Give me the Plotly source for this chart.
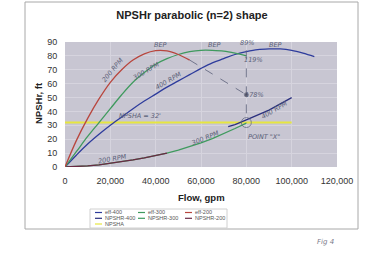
import plotly.graph_objects as go

# ---------------- data ----------------
flow_eff200 = [0, 5000, 10000, 15000, 20000, 25000, 30000, 35000, 40000, 45000, 50000, 55000]
eff200 = [0, 19, 35, 49, 61, 70, 77, 81.5, 83.8, 83.6, 81, 77]

flow_eff300 = [0, 5000, 10000, 15000, 20000, 25000, 30000, 35000, 40000, 45000, 50000,
               55000, 60000, 65000, 70000, 75000, 80000]
eff300 = [0, 11, 22, 32, 42, 52, 61, 68, 74, 78, 81, 83, 84, 84, 83.5, 82, 80]

flow_eff400 = [0, 5000, 10000, 15000, 20000, 25000, 30000, 35000, 40000, 45000, 50000, 55000,
               60000, 65000, 70000, 75000, 80000, 85000, 90000, 95000, 100000, 105000, 110000]
eff400 = [0, 8.5, 16.5, 23.5, 30, 36, 42, 47.5, 52.5, 57.5, 62, 66.5, 71, 75, 78, 81, 83, 84.5,
          85, 85, 84, 82, 79.5]

flow_npshr200 = [0, 5000, 10000, 15000, 20000, 25000, 30000, 35000, 40000, 45000]
npshr200 = [0, 0.3, 0.8, 1.6, 2.7, 3.9, 5.2, 6.6, 8.2, 10]

flow_npshr300 = [0, 5000, 10000, 15000, 20000, 25000, 30000, 35000, 40000, 45000, 50000,
                 55000, 60000, 65000, 70000, 75000, 80000]
npshr300 = [0, 0.3, 0.8, 1.6, 2.7, 3.9, 5.2, 6.6, 8.2, 10, 12.2, 14.6, 17.3, 20.5, 24, 27.7, 31.6]

flow_npshr400 = [72000, 75000, 80000, 85000, 90000, 95000, 100000]
npshr400 = [29, 30.5, 34, 37.5, 41, 45.5, 50]

flow_npsha = [0, 100000]
npsha = [32, 32]

x_ticks = [0, 20000, 40000, 60000, 80000, 100000, 120000]
x_tick_text = ["0", "20,000", "40,000", "60,000", "80,000", "100,000", "120,000"]
y_ticks = [0, 10, 20, 30, 40, 50, 60, 70, 80, 90]

series_names = ["eff-400", "eff-300", "eff-200", "NPSHR-400", "NPSHR-300", "NPSHR-200", "NPSHA"]
series_colors = ["#2e3c9c", "#3f9a5e", "#b8463e", "#2a2f7e", "#3f9a5e", "#6a2a44", "#e6e640"]

# handwritten notes: (text, flow, value, angle)
notes = [
    ("200 RPM", 21000, 70, -50),
    ("300 RPM", 36000, 69, -30),
    ("400 RPM", 45500, 62, -30),
    ("BEP", 42000, 88, 0),
    ("BEP", 66000, 88, 0),
    ("BEP", 93000, 88, 0),
    ("89%", 80500, 89, 0),
    ("119%", 83000, 77, 0),
    ("178%", 83500, 52, 0),
    ("NPSHA = 32'", 33000, 36.5, 0),
    ("POINT \"X\"", 88000, 21.5, 0),
    ("200 RPM", 21000, 5.5, -10),
    ("300 RPM", 62000, 21, -22),
    ("400 RPM", 92500, 41, -30),
]

# ---------------- figure ----------------
fig = go.Figure()

fig.add_trace(go.Scatter(x=flow_npsha, y=npsha, mode="lines", name=series_names[6],
                         line=dict(color=series_colors[6], width=2)))
fig.add_trace(go.Scatter(x=flow_npshr400, y=npshr400, mode="lines", name=series_names[3],
                         line=dict(color=series_colors[3], width=1.3)))
fig.add_trace(go.Scatter(x=flow_npshr300, y=npshr300, mode="lines", name=series_names[4],
                         line=dict(color=series_colors[4], width=1.3)))
fig.add_trace(go.Scatter(x=flow_npshr200, y=npshr200, mode="lines", name=series_names[5],
                         line=dict(color=series_colors[5], width=1.3)))
fig.add_trace(go.Scatter(x=flow_eff400, y=eff400, mode="lines", name=series_names[0],
                         line=dict(color=series_colors[0], width=1.3, shape="spline")))
fig.add_trace(go.Scatter(x=flow_eff300, y=eff300, mode="lines", name=series_names[1],
                         line=dict(color=series_colors[1], width=1.3, shape="spline")))
fig.add_trace(go.Scatter(x=flow_eff200, y=eff200, mode="lines", name=series_names[2],
                         line=dict(color=series_colors[2], width=1.3, shape="spline")))

# handwritten construction lines
ink = "#5a6078"
fig.add_trace(go.Scatter(x=[flow_eff200[-1], 80000], y=[eff200[-1], 52], mode="lines",
                         line=dict(color=ink, width=0.8, dash="dash"), hoverinfo="skip"))
fig.add_trace(go.Scatter(x=[80000, 80000], y=[84, 32], mode="lines",
                         line=dict(color=ink, width=0.8, dash="dash"), hoverinfo="skip"))
fig.add_trace(go.Scatter(x=[80000, 80000], y=[52, 32], mode="markers",
                         marker=dict(color=["#333344", "rgba(0,0,0,0)"], size=[4, 10],
                                     line=dict(color=ink, width=1)), hoverinfo="skip"))

for t, fx, fy, ang in notes:
    fig.add_annotation(x=fx, y=fy, text=t, showarrow=False, textangle=ang,
                       font=dict(family="DejaVu Sans", size=6.5, color=ink, style="italic"))

# ---------------- manual compact legend / titles in pixel positions ----------------
W, H = 384, 262
L, R, T, B = 65, 47, 42, 95
pw, ph = W - L - R, H - T - B


def px(xp):
    return (xp - L) / pw


def py(yp):
    return (H - B - yp) / ph


fig.add_shape(type="rect", xref="paper", yref="paper", x0=px(25), x1=px(358), y0=py(229), y1=py(2),
              line=dict(color="#a8a8a8", width=1), layer="below")
fig.add_shape(type="rect", xref="paper", yref="paper", x0=px(90), x1=px(227), y0=py(228), y1=py(209),
              line=dict(color="#d0d0d0", width=1), fillcolor="white")

col_x = [95, 138, 185]
row_y = [212.5, 218.3, 224]
slots = [(0, 0), (1, 0), (2, 0), (0, 1), (1, 1), (2, 1), (0, 2)]
for (c, r), name, col in zip(slots, series_names, series_colors):
    fig.add_shape(type="line", xref="paper", yref="paper", x0=px(col_x[c]), x1=px(col_x[c] + 7),
                  y0=py(row_y[r]), y1=py(row_y[r]), line=dict(color=col, width=1.2))
    fig.add_annotation(xref="paper", yref="paper", x=px(col_x[c] + 7.5), y=py(row_y[r]), text=name,
                       showarrow=False, xanchor="left", yanchor="middle",
                       font=dict(family="Liberation Sans", size=5.5, color="#555555"))

fig.add_annotation(xref="paper", yref="paper", x=px(201), y=py(197), text="<b>Flow, gpm</b>",
                   showarrow=False, xanchor="center", yanchor="middle",
                   font=dict(family="Liberation Sans", size=9.5, color="#222222"))
fig.add_annotation(xref="paper", yref="paper", x=px(38), y=py(103), text="<b>NPSHr, ft</b>",
                   showarrow=False, textangle=-90, xanchor="center", yanchor="middle",
                   font=dict(family="Liberation Sans", size=9.5, color="#222222"))

fig.add_annotation(xref="paper", yref="paper", x=px(336), y=py(248), text="Fig 4", showarrow=False,
                   font=dict(family="DejaVu Sans", size=7, color="#777788", style="italic"))

fig.update_layout(
    width=W, height=H,
    margin=dict(l=L, r=R, t=T, b=B, pad=0),
    paper_bgcolor="white",
    plot_bgcolor="#c8c6d2",
    showlegend=False,
    font=dict(family="Liberation Sans", color="#333333"),
    title=dict(text="<b>NPSHr parabolic (n=2) shape</b>", x=0.5, xanchor="center",
               y=1 - 15 / H, yanchor="middle", yref="container",
               font=dict(size=11, color="#222222")),
)
fig.update_xaxes(range=[0, 120000], tickvals=x_ticks, ticktext=x_tick_text,
                 tickfont=dict(size=9), ticks="outside", ticklen=5, tickcolor="rgba(0,0,0,0)",
                 showgrid=True, gridcolor="#d6d4de", gridwidth=1, zeroline=False, showline=False,
                 automargin=False)
fig.update_yaxes(range=[0, 90], tickvals=y_ticks, tickfont=dict(size=9), ticks="outside",
                 ticklen=5, tickcolor="rgba(0,0,0,0)",
                 showgrid=True, gridcolor="#d6d4de", gridwidth=1, zeroline=False, showline=False,
                 automargin=False)

fig.write_html("out.html")
